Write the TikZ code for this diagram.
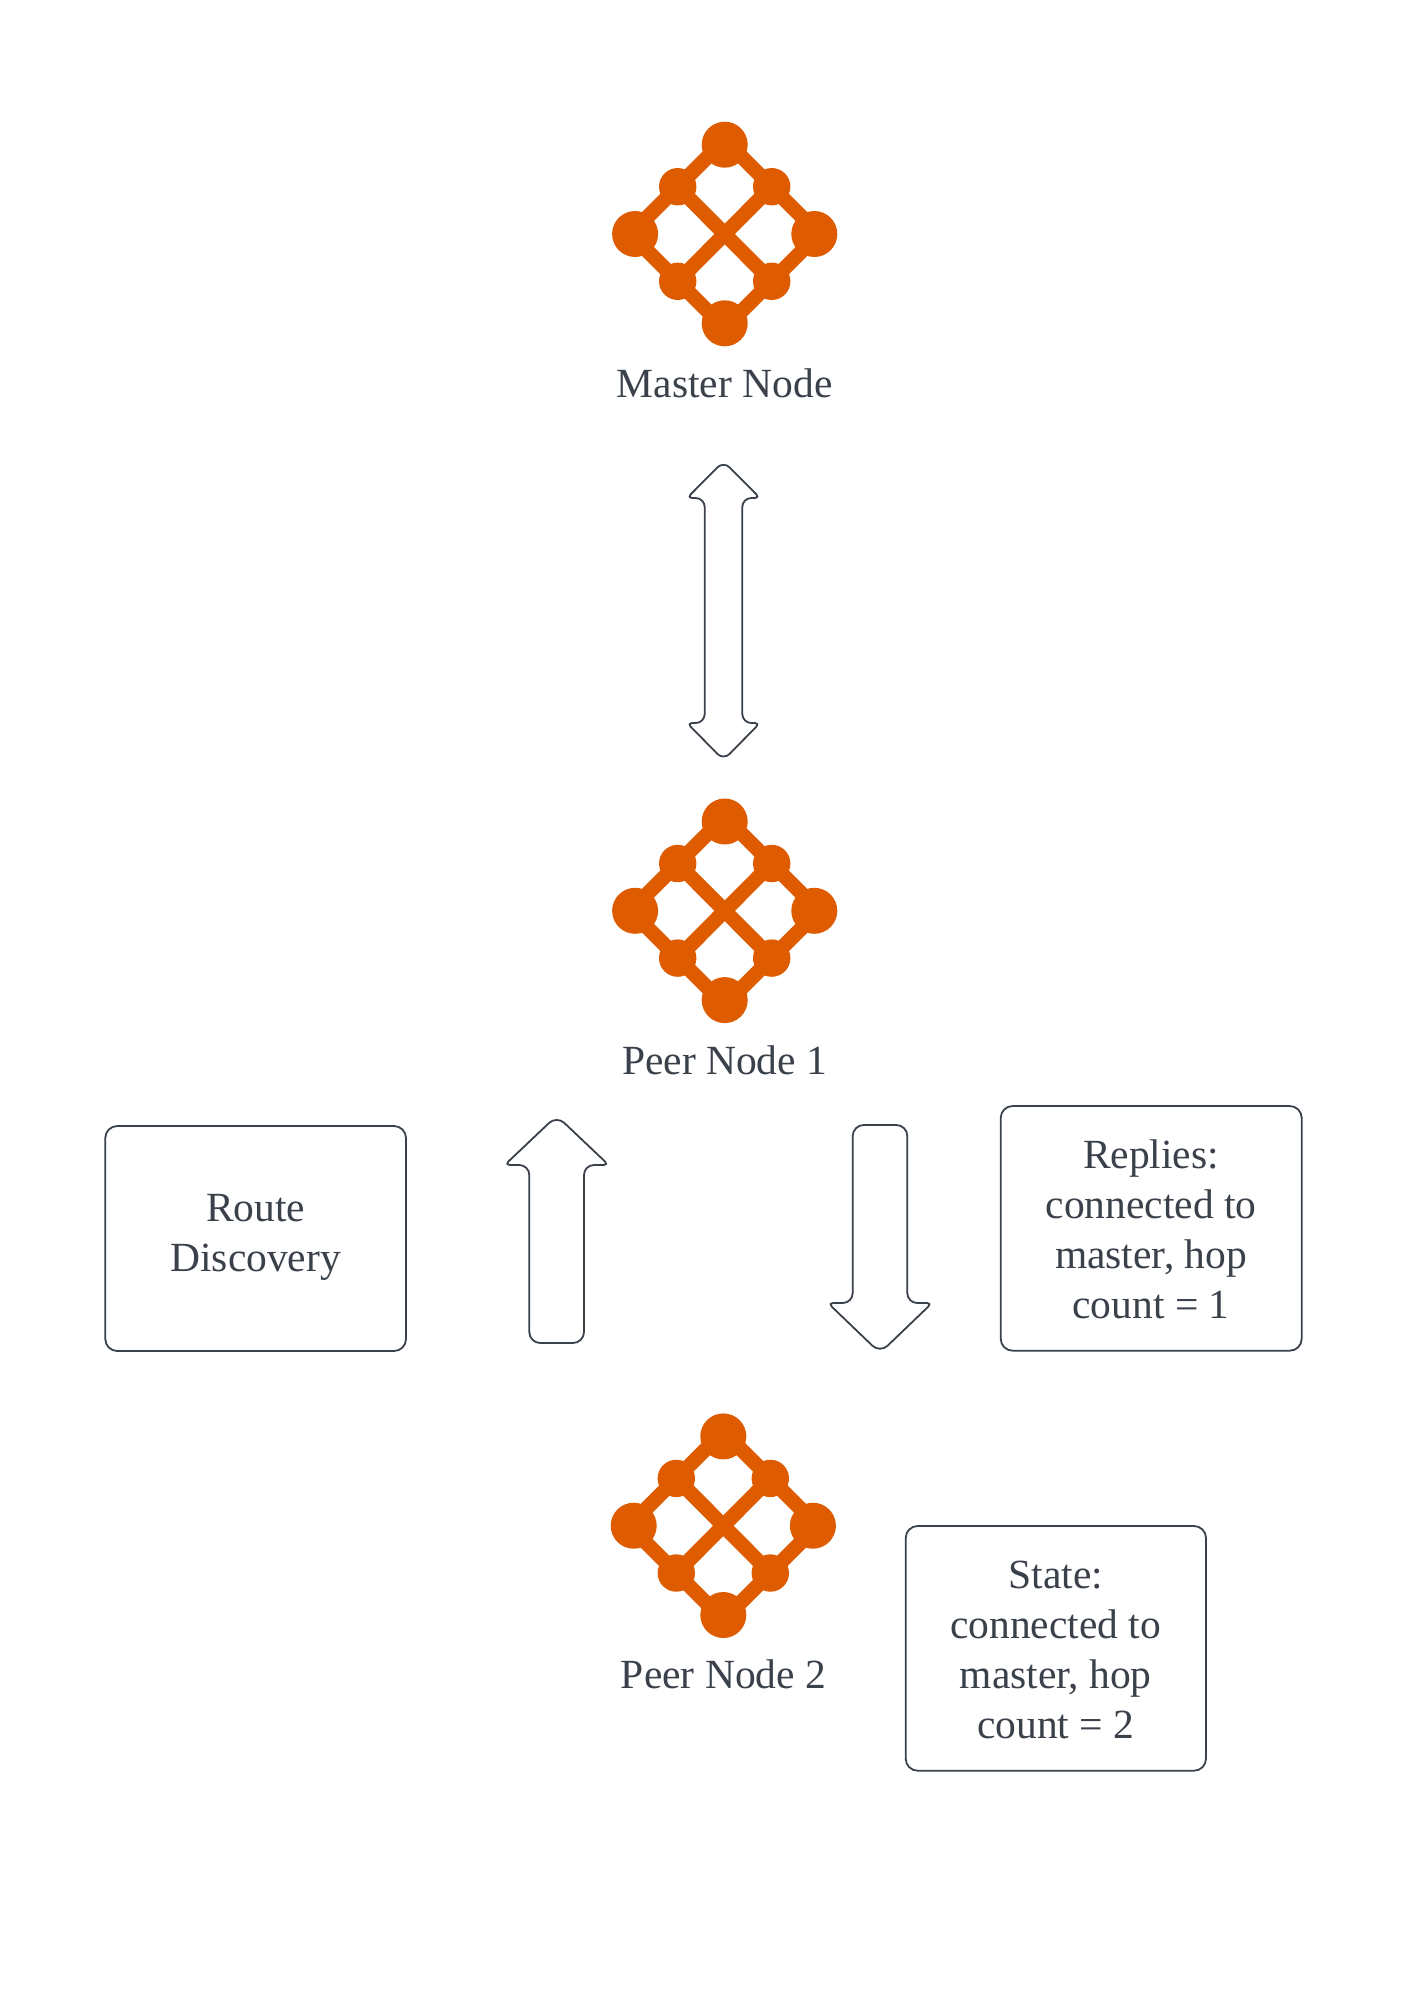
\documentclass[tikz,border=0pt]{standalone}
\usepackage{fontspec}
\usetikzlibrary{calc}
\setmainfont{Liberation Serif}
\definecolor{ink}{HTML}{3A414A}
\definecolor{mesh}{HTML}{DE5B00}
% one rounded corner: from point 1, round the vertex 2, to point 3
\def\rndc(#1)(#2)(#3){(#1) .. controls ($(#1)!0.55!(#2)$) and ($(#3)!0.55!(#2)$) .. (#3)}
\tikzset{
  x=1pt,y=-1pt,
  outline/.style={draw=ink,line width=1.8pt,fill=white},
  blockarrow/.style={outline,line join=round},
  notebox/.style={outline,rounded corners=12pt},
  labeltext/.style={text=ink,font=\fontsize{41.5}{50}\selectfont,align=center,inner sep=0pt,anchor=base},
  meshlink/.style={draw=mesh,line width=14.6pt},
  meshbig/.style={fill=mesh,circle,minimum size=46pt,inner sep=0pt,draw=none},
  meshsmall/.style={fill=mesh,circle,minimum size=37.4pt,inner sep=0pt,draw=none},
  meshicon/.pic={
    \node[meshbig] (-t) at (0,-89.3) {};
    \node[meshbig] (-b) at (0,89.3) {};
    \node[meshbig] (-l) at (-89.6,0) {};
    \node[meshbig] (-r) at (89.6,0) {};
    \node[meshsmall] (-tl) at (-47,-47.3) {};
    \node[meshsmall] (-tr) at (47,-47.3) {};
    \node[meshsmall] (-bl) at (-47,47.3) {};
    \node[meshsmall] (-br) at (47,47.3) {};
    \coordinate (-tv) at (0,-94.2);
    \coordinate (-bv) at (0,94.2);
    \coordinate (-lv) at (-94.2,0);
    \coordinate (-rv) at (94.2,0);
    \draw[meshlink] (-tv) -- (-lv) -- (-bv) -- (-rv) -- cycle;
    \draw[meshlink] (-tl.center) -- (-br.center);
    \draw[meshlink] (-tr.center) -- (-bl.center);
  }
}
\begin{document}
\begin{tikzpicture}
\useasboundingbox (0,0) rectangle (1401,2008);
\fill[white] (0,0) rectangle (1401,2008);
% mesh icons
\pic (m) at (724.7,234) {meshicon};
\pic (p) at (724.7,910.8) {meshicon};
\pic (q) at (723.3,1525.7) {meshicon};
% labels
\node[labeltext] (mlabel) at (724.7,397.5) {Master Node};
\node[labeltext] (plabel) at (724.7,1074) {Peer Node 1};
\node[labeltext] (qlabel) at (723.5,1688.5) {Peer Node 2};
% double arrow
\draw[blockarrow]
  (742.3,600) -- \rndc(742.3,507)(742.3,498)(751.3,498)
  -- \rndc(755,498)(760,498)(756.5,494.5)
  -- \rndc(729.5,467.3)(723.5,461.3)(717.5,467.3)
  -- \rndc(690.5,494.5)(687,498)(692,498)
  -- \rndc(695.7,498)(704.7,498)(704.7,507)
  -- \rndc(704.7,714)(704.7,723)(695.7,723)
  -- \rndc(692,723)(687,723)(690.5,726.5)
  -- \rndc(717.5,754)(723.5,760)(729.5,754)
  -- \rndc(756.5,726.5)(760,723)(755,723)
  -- \rndc(751.3,723)(742.3,723)(742.3,714) -- cycle;
% up arrow
\draw[blockarrow]
  (584,1250) -- \rndc(584,1175)(584,1165)(594,1165)
  -- \rndc(603.7,1165)(608.7,1165)(605.1,1161.6)
  -- \rndc(564.3,1122.9)(556.7,1115.7)(549.1,1122.9)
  -- \rndc(508.3,1161.6)(504.7,1165)(509.7,1165)
  -- \rndc(519.3,1165)(529.3,1165)(529.3,1175)
  -- \rndc(529.3,1332)(529.3,1343)(540.3,1343)
  -- \rndc(573,1343)(584,1343)(584,1332) -- cycle;
% down arrow
\draw[blockarrow]
  (907.3,1220) -- \rndc(907.3,1136)(907.3,1125)(896.3,1125)
  -- \rndc(863.7,1125)(852.7,1125)(852.7,1136)
  -- \rndc(852.7,1293)(852.7,1303)(842.7,1303)
  -- \rndc(833,1303)(828,1303)(831.6,1306.5)
  -- \rndc(872.4,1345.7)(880,1353)(887.6,1345.7)
  -- \rndc(928.4,1306.5)(932,1303)(927,1303)
  -- \rndc(917.3,1303)(907.3,1303)(907.3,1293) -- cycle;
% boxes
\draw[notebox] (105.3,1126) rectangle (406,1351);
\node[labeltext] (route) at (255.7,1271.7) {Route\\Discovery};
\draw[notebox] (1000.7,1106) rectangle (1301.7,1350.7);
\node[labeltext] (replies) at (1151,1318) {Replies:\\connected to\\master, hop\\count = 1};
\draw[notebox] (905.7,1526) rectangle (1206,1770.7);
\node[labeltext] (state) at (1055.7,1738) {State:\\connected to\\master, hop\\count = 2};
\end{tikzpicture}
\end{document}
